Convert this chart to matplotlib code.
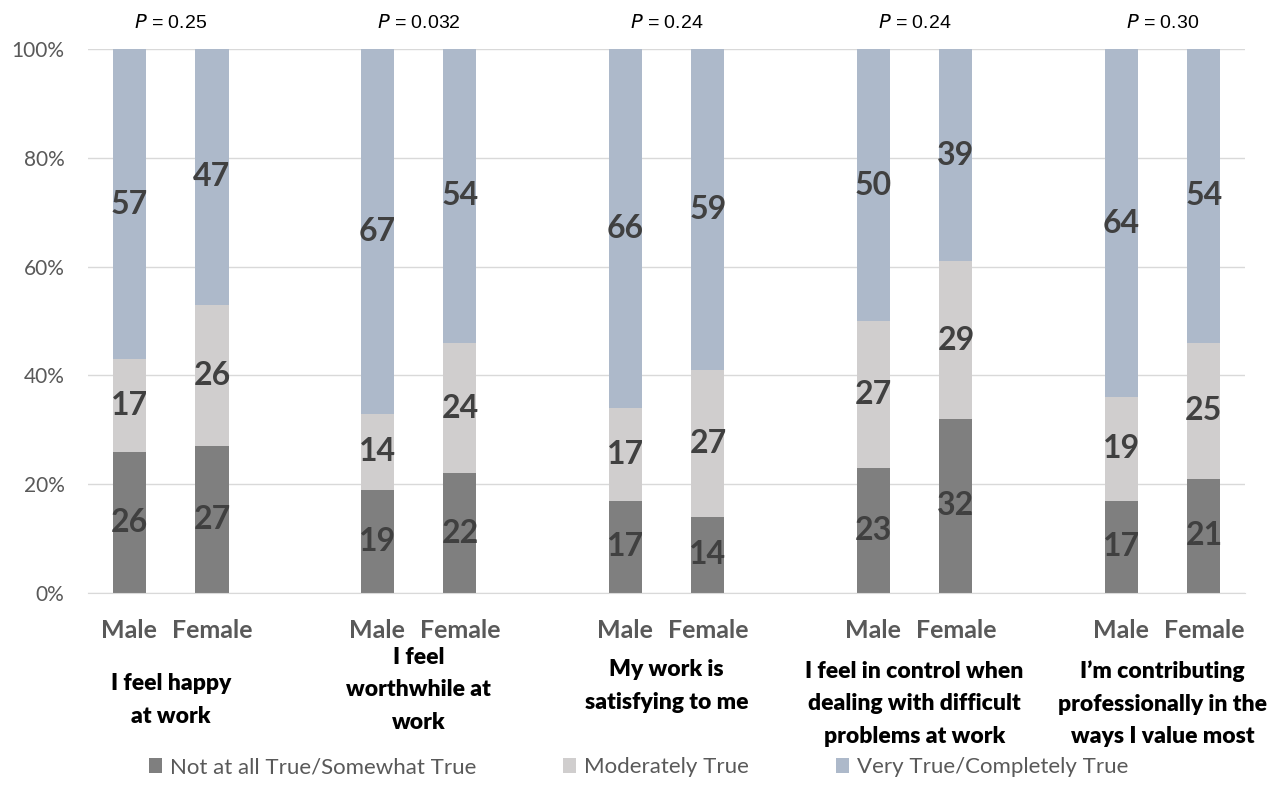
import numpy as np
import matplotlib.pyplot as plt
from matplotlib.patches import Patch

# datos (porcentajes)
categorias = ["I feel happy\nat work",
              "I feel\nworthwhile at\nwork",
              "My work is\nsatisfying to me",
              "I feel in control when\ndealing with difficult\nproblems at work",
              "I\u2019m contributing\nprofessionally in the\nways I value most"]
grupos = ["Male", "Female"]
p_valores = ["0.25", "0.032", "0.24", "0.24", "0.30"]
series = ["Not at all True/Somewhat True", "Moderately True", "Very True/Completely True"]

# orden: Male, Female por cada categoria
poco_cierto = [26, 27, 19, 22, 17, 14, 23, 32, 17, 21]
moderado = [17, 26, 14, 24, 17, 27, 27, 29, 19, 25]
muy_cierto = [57, 47, 67, 54, 66, 59, 50, 39, 64, 54]

colores = ["#7f7f7f", "#d0cece", "#adb9ca"]
gris_texto = "#595959"

plt.rcParams['font.family'] = ['Lato', 'DejaVu Sans']

fig = plt.figure(figsize=(12.85, 8.06), dpi=100)
ax = fig.add_axes([0.0685, 0.2643, 0.9005, 0.6747])

# posiciones: dos barras por grupo y un hueco entre grupos
n = len(categorias)
x = np.array([3 * i + j for i in range(n) for j in range(2)])
ancho = 0.4

abajo = np.zeros(len(x))
for vals, col in zip([poco_cierto, moderado, muy_cierto], colores):
    vals = np.array(vals)
    ax.bar(x, vals, width=ancho, bottom=abajo, color=col, zorder=2)
    for xi, v, b in zip(x, vals, abajo):
        ax.text(xi, b + v / 2, str(v), ha='center', va='center',
                fontsize=23, fontweight='bold', color="#404040", zorder=3)
    abajo += vals

ax.set_xlim(-0.5, 13.5)
ax.set_ylim(0, 100)
ax.set_yticks(np.arange(0, 101, 20))
ax.set_yticklabels([f"{v}%" for v in range(0, 101, 20)], fontsize=15, color=gris_texto)
ax.yaxis.grid(True, color="#d9d9d9", linewidth=1, zorder=0)
ax.tick_params(axis='y', length=0, pad=17)
ax.set_xticks(x)
ax.set_xticklabels(grupos * n, fontsize=18, fontweight='bold', color=gris_texto)
ax.tick_params(axis='x', length=0, pad=19)
for s in ['top', 'right', 'left']:
    ax.spines[s].set_visible(False)
ax.spines['bottom'].set_color("#d9d9d9")

# etiquetas de categoria y valores P
y_cat = [-19.7, -17.8, -17.1, -20.4, -20.4]
for i, (cat, p) in enumerate(zip(categorias, p_valores)):
    xc = 3 * i + 0.5
    ax.text(xc, y_cat[i], cat, ha='center', va='center', fontsize=16.5,
            fontweight='heavy', color='black', linespacing=1.68,
            clip_on=False)
    ax.text(xc, 104.8, f"$\\it{{P}}$ = {p}", ha='center', va='center',
            fontsize=14, family='Liberation Sans', color='black')

handles = [Patch(facecolor=c, edgecolor='none') for c in colores]
fig.legend(handles, series, loc='center', bbox_to_anchor=(0.497, 0.048), ncol=3,
           frameon=False, fontsize=16, handlelength=0.6, handleheight=0.6,
           handletextpad=0.35, columnspacing=3.9, labelcolor=gris_texto)

fig.savefig("out.png", dpi=100)
